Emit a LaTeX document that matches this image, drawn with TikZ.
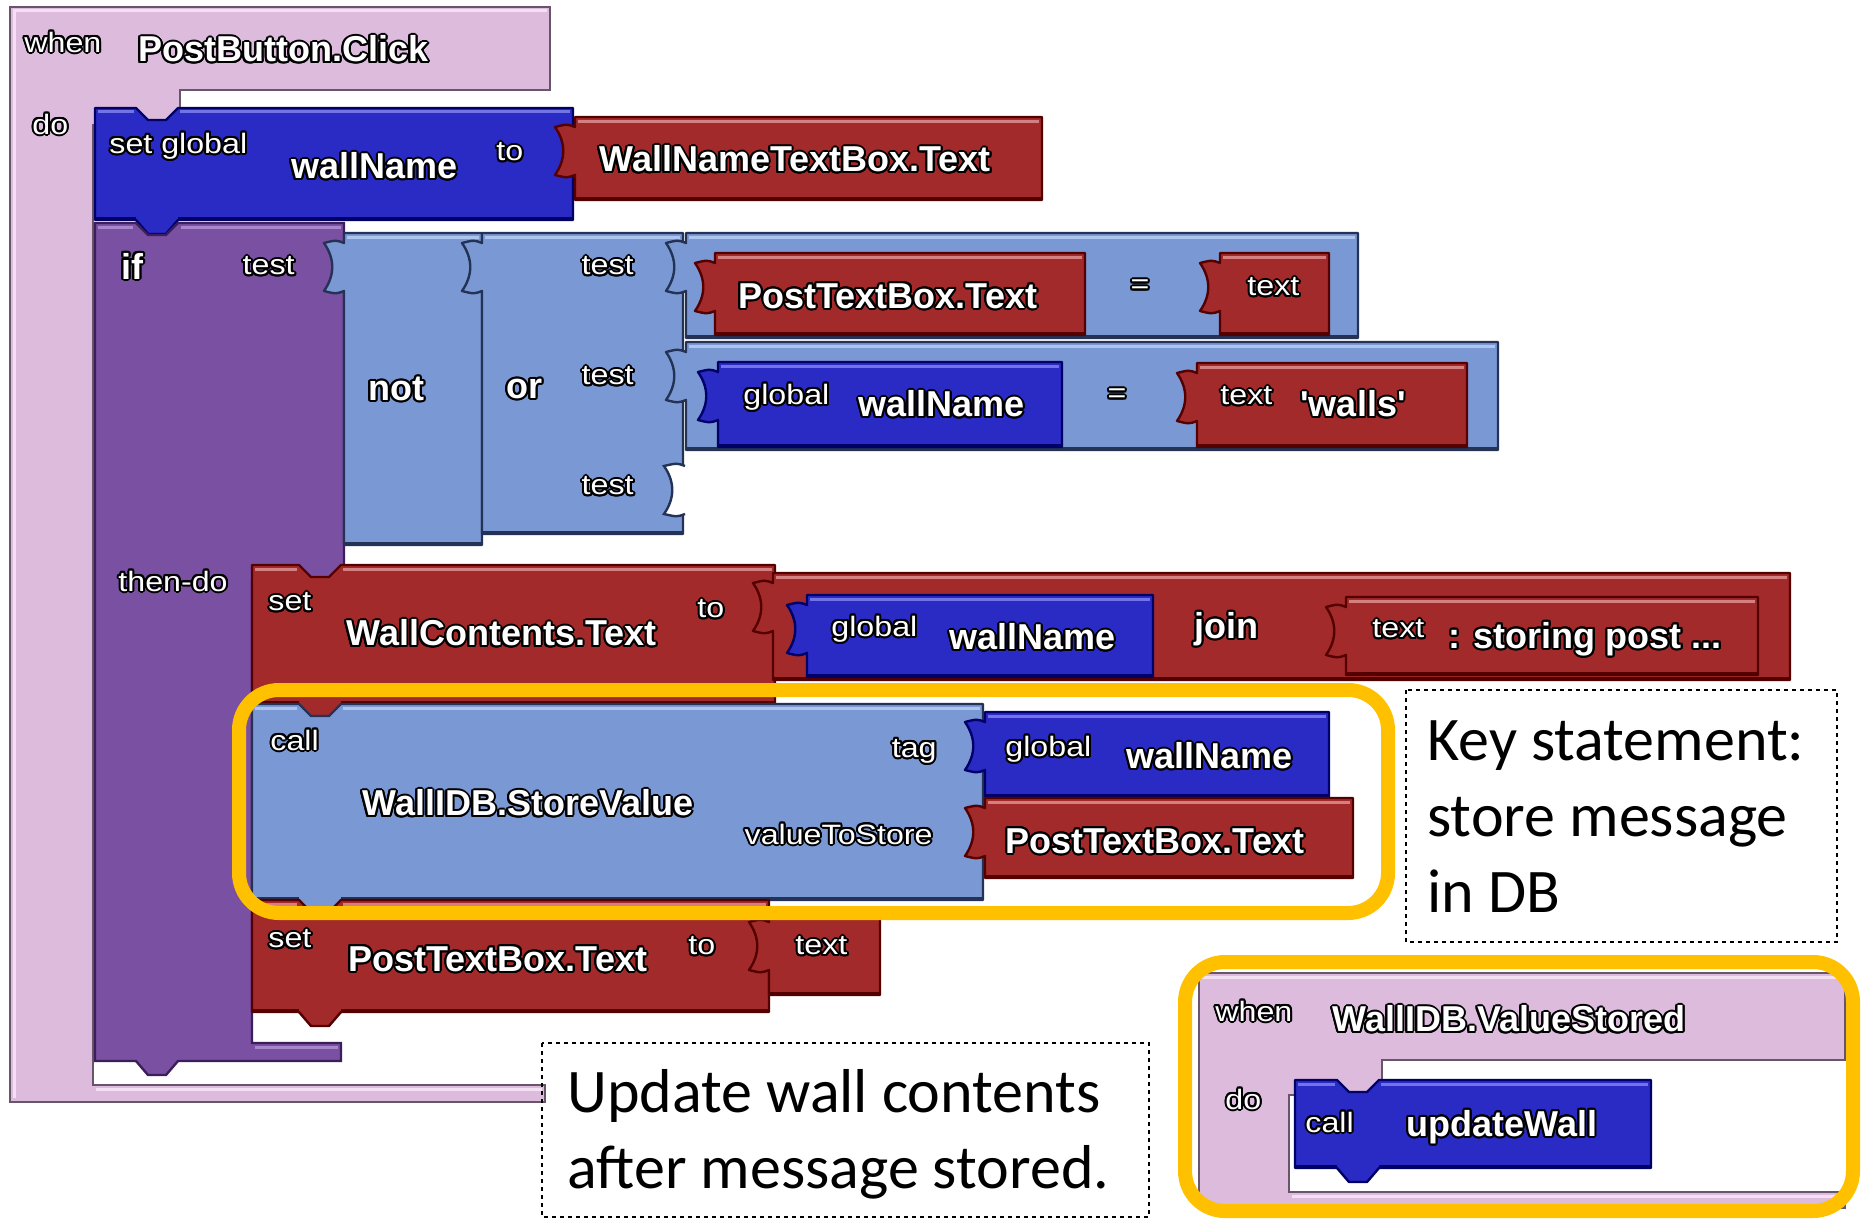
\documentclass[tikz,border=0pt]{standalone}
\usepackage{fontspec}
\usepackage{contour}
\usetikzlibrary{positioning}
\setmainfont{Liberation Sans}
\newfontfamily\blockfont{Liberation Sans}
\newfontfamily\labelfont[FakeStretch=1.15]{Liberation Sans}
\newfontfamily\notefont{Carlito}
\newcommand\bigblkfont{\blockfont\bfseries\fontsize{18}{20}\selectfont}
\newcommand\smallblkfont{\labelfont\fontsize{14}{16}\selectfont}
\newcommand\notesize{\notefont\fontsize{31}{39}\selectfont}
\contourlength{1pt}
\newcommand\outl[1]{\contour{black}{#1}}
\definecolor{evtfill}{RGB}{221,187,221}
\definecolor{evtlight}{RGB}{243,225,243}
\definecolor{evtdark}{RGB}{105,85,105}
\definecolor{varfill}{RGB}{42,42,196}
\definecolor{varlight}{RGB}{115,115,232}
\definecolor{vardark}{RGB}{0,0,105}
\definecolor{txtfill}{RGB}{163,42,42}
\definecolor{txtlight}{RGB}{212,128,128}
\definecolor{txtdark}{RGB}{85,0,0}
\definecolor{logfill}{RGB}{122,153,212}
\definecolor{loglight}{RGB}{172,196,238}
\definecolor{logdark}{RGB}{35,50,85}
\definecolor{ctlfill}{RGB}{122,80,162}
\definecolor{ctllight}{RGB}{168,134,204}
\definecolor{ctldark}{RGB}{60,30,90}
\definecolor{hilite}{RGB}{255,192,0}
% value block: body with puzzle plug on the left
\newcommand\valblock[5]{%
  \filldraw[fill=#1fill, draw=#1dark, line width=1.2pt, line join=round]
    (#2,#3) -- (#4,#3) -- (#4,#5) -- (#2,#5) -- (#2,{#3+58})
    .. controls ({#2-8},{#3+61}) .. ({#2-20},{#3+58})
    .. controls ({#2-9},{#3+42}) and ({#2-9},{#3+26}) .. ({#2-20},{#3+10})
    .. controls ({#2-8},{#3+7}) .. (#2,{#3+10}) -- cycle;
  \draw[#1light, line width=1.5pt] ({#2+3},{#3+4}) -- ({#4-3},{#3+4});
  \draw[#1dark, line width=1.5pt] ({#2+1},{#5-2}) -- ({#4-1},{#5-2});}
% statement block: notch on top, tab below
\newcommand\stmtblock[6]{%
  \filldraw[fill=#1fill, draw=#1dark, line width=1.2pt, line join=round]
    (#2,#3) -- (#6,#3) -- ({#6+12},{#3+12}) -- ({#6+30},{#3+12}) -- ({#6+42},#3)
    -- (#4,#3) -- (#4,#5) -- ({#6+42},#5) -- ({#6+30},{#5+14}) -- ({#6+12},{#5+14})
    -- (#6,#5) -- (#2,#5) -- cycle;
  \draw[#1light, line width=1.5pt] ({#2+3},{#3+4}) -- ({#6-2},{#3+4}) ({#6+44},{#3+4}) -- ({#4-3},{#3+4});
  \draw[#1dark, line width=1.5pt] ({#2+1},{#5-2}) -- ({#6},{#5-2}) ({#6+42},{#5-2}) -- ({#4-1},{#5-2});}

\begin{document}
\begin{tikzpicture}[x=0.5pt, y=-0.5pt,
    bigtxt/.style={text=white, font=\bigblkfont, inner sep=0pt, anchor=west},
    smalltxt/.style={text=white, font=\smallblkfont, inner sep=0pt, anchor=west},
    note/.style={font=\notesize, inner sep=0pt, anchor=base west},
    notebox/.style={draw=black, line width=0.6pt, dash pattern=on 2pt off 2pt},
    keyring/.style={draw=hilite, line width=7pt, rounded corners=20pt}]
    \useasboundingbox (0,0) rectangle (1866,1220);

    % Event: when PostButton.Click
    \filldraw[fill=evtfill, draw=evtdark, line width=1.2pt] (10,7) -- (550,7) -- (550,90) -- (180,90) -- (180,125)
        -- (93,125) -- (93,1085) -- (545,1085) -- (545,1102) -- (10,1102) -- cycle;
    \draw[evtlight, line width=1.5pt] (13,11) -- (547,11) (14,11) -- (14,1098) (96,1089) -- (542,1089);

    % set global wallName to WallNameTextBox.Text
    \stmtblock{var}{95}{108}{573}{220}{136}
    \valblock{txt}{575}{117}{1042}{200}

    % if / then-do
    \filldraw[fill=ctlfill, draw=ctldark, line width=1.2pt] (95,223) -- (136,223) -- (148,235) -- (166,235) -- (178,223)
        -- (344,223) -- (344,580) -- (252,580) -- (252,1043) -- (341,1043) -- (341,1061) -- (178,1061)
        -- (166,1075) -- (148,1075) -- (136,1061) -- (95,1061) -- cycle;
    \draw[ctllight, line width=1.5pt] (98,227) -- (133,227) (181,227) -- (341,227) (255,1047) -- (338,1047);

    % not ( or ( = , = , empty ) )
    \valblock{log}{344}{233}{482}{545}
    \valblock{log}{482}{233}{683}{534}
    \valblock{log}{686}{233}{1358}{338}
    \valblock{log}{686}{342}{1498}{450}
    \valblock{txt}{715}{253}{1085}{335}
    \valblock{txt}{1220}{253}{1329}{335}
    \valblock{var}{718}{362}{1062}{447}
    \valblock{txt}{1197}{363}{1467}{447}
    \filldraw[fill=white, draw=logdark, line width=1.2pt] (685,514) .. controls (677,517) .. (664,514)
        .. controls (675,498) and (675,482) .. (664,466) .. controls (677,463) .. (685,466);

    % set WallContents.Text to join
    \stmtblock{txt}{252}{565}{775}{704}{299}
    \valblock{txt}{773}{573}{1790}{680}
    \valblock{var}{807}{595}{1153}{677}
    \valblock{txt}{1346}{597}{1758}{675}

    % call WallIDB.StoreValue
    \stmtblock{log}{252}{704}{983}{900}{299}
    \valblock{var}{985}{712}{1329}{797}
    \valblock{txt}{985}{798}{1353}{878}

    % set PostTextBox.Text to text
    \stmtblock{txt}{252}{900}{769}{1012}{299}
    \valblock{txt}{769}{912}{880}{995}

    % Event: when WallIDB.ValueStored
    \filldraw[fill=evtfill, draw=evtdark, line width=1.2pt] (1199,973) -- (1845,973) -- (1845,1060) -- (1382,1060)
        -- (1382,1095) -- (1289,1095) -- (1289,1192) -- (1845,1192) -- (1845,1208) -- (1199,1208) -- cycle;
    \draw[evtlight, line width=1.5pt] (1202,977) -- (1842,977) (1292,1196) -- (1842,1196);
    \stmtblock{var}{1295}{1080}{1651}{1168}{1337}

    % Highlight rings
    \draw[keyring] (239,690) rectangle (1388,913);
    \draw[keyring] (1185,962) rectangle (1853,1211);

    % Block labels
    \node[smalltxt] (when1) at (24,43) {\outl{when}};
    \node[bigtxt] (click) at (138,50) {\outl{PostButton.Click}};
    \node[smalltxt] (do1) at (32,125) {\outl{do}};
    \node[smalltxt] (setg) at (109,147) {\outl{set global}};
    \node[bigtxt] (wn1) at (291,167) {\outl{wallName}};
    \node[smalltxt] (to1) at (496,153) {\outl{to}};
    \node[bigtxt] (wntb) at (599,160) {\outl{WallNameTextBox.Text}};
    \node[bigtxt] (iflbl) at (121,267) {\outl{if}};
    \node[smalltxt, anchor=east] (iftest) at (295,267) {\outl{test}};
    \node[smalltxt] (thendo) at (118,582) {\outl{then-do}};
    \node[bigtxt] (notlbl) at (368,390) {\outl{not}};
    \node[bigtxt] (orlbl) at (506,390) {\outl{or}};
    \node[smalltxt, anchor=east] (ortesta) at (634,267) {\outl{test}};
    \node[smalltxt, anchor=east] (ortestb) at (634,377) {\outl{test}};
    \node[smalltxt, anchor=east] (ortestc) at (634,487) {\outl{test}};
    \node[bigtxt] (ptba) at (738,297) {\outl{PostTextBox.Text}};
    \node[smalltxt, anchor=center] (eqa) at (1140,288) {\outl{=}};
    \node[smalltxt] (txta) at (1247,288) {\outl{text}};
    \node[smalltxt] (globa) at (743,398) {\outl{global}};
    \node[bigtxt] (wn2) at (858,405) {\outl{wallName}};
    \node[smalltxt, anchor=center] (eqb) at (1117,397) {\outl{=}};
    \node[smalltxt] (txtb) at (1220,397) {\outl{text}};
    \node[bigtxt] (walls) at (1300,405) {\outl{'walls'}};
    \node[smalltxt] (seta) at (268,603) {\outl{set}};
    \node[bigtxt] (wct) at (346,634) {\outl{WallContents.Text}};
    \node[smalltxt] (to2) at (697,610) {\outl{to}};
    \node[smalltxt] (globb) at (831,630) {\outl{global}};
    \node[bigtxt] (wn3) at (949,638) {\outl{wallName}};
    \node[bigtxt] (joinlbl) at (1194,630) {\outl{join}};
    \node[smalltxt] (txtc) at (1372,630) {\outl{text}};
    \node[bigtxt] (storing) at (1448,640) {\outl{: storing post ...}};
    \node[smalltxt] (calla) at (270,741) {\outl{call}};
    \node[bigtxt] (storeval) at (362,804) {\outl{WallIDB.StoreValue}};
    \node[smalltxt, anchor=east] (tag) at (937,752) {\outl{tag}};
    \node[smalltxt, anchor=east] (vts) at (933,835) {\outl{valueToStore}};
    \node[smalltxt] (globc) at (1005,750) {\outl{global}};
    \node[bigtxt] (wn4) at (1126,757) {\outl{wallName}};
    \node[bigtxt] (ptbb) at (1005,842) {\outl{PostTextBox.Text}};
    \node[smalltxt] (setb) at (268,940) {\outl{set}};
    \node[bigtxt] (ptbc) at (348,960) {\outl{PostTextBox.Text}};
    \node[smalltxt] (to3) at (688,947) {\outl{to}};
    \node[smalltxt] (txtd) at (795,947) {\outl{text}};
    \node[smalltxt] (when2) at (1215,1012) {\outl{when}};
    \node[bigtxt] (valstored) at (1332,1020) {\outl{WallIDB.ValueStored}};
    \node[smalltxt] (do2) at (1225,1100) {\outl{do}};
    \node[smalltxt] (callb) at (1305,1123) {\outl{call}};
    \node[bigtxt] (updwall) at (1406,1128) {\outl{updateWall}};

    % Notes
    \draw[notebox] (1406,690) rectangle (1837,942);
    \node[note] (keya) at (1427,760) {Key statement:};
    \node[note] (keyb) at (1427,836) {store message};
    \node[note] (keyc) at (1427,912) {in DB};
    \draw[notebox] (542,1043) rectangle (1149,1217);
    \node[note] (upda) at (567,1112) {Update wall contents};
    \node[note] (updb) at (567,1188) {after message stored.};
\end{tikzpicture}
\end{document}
